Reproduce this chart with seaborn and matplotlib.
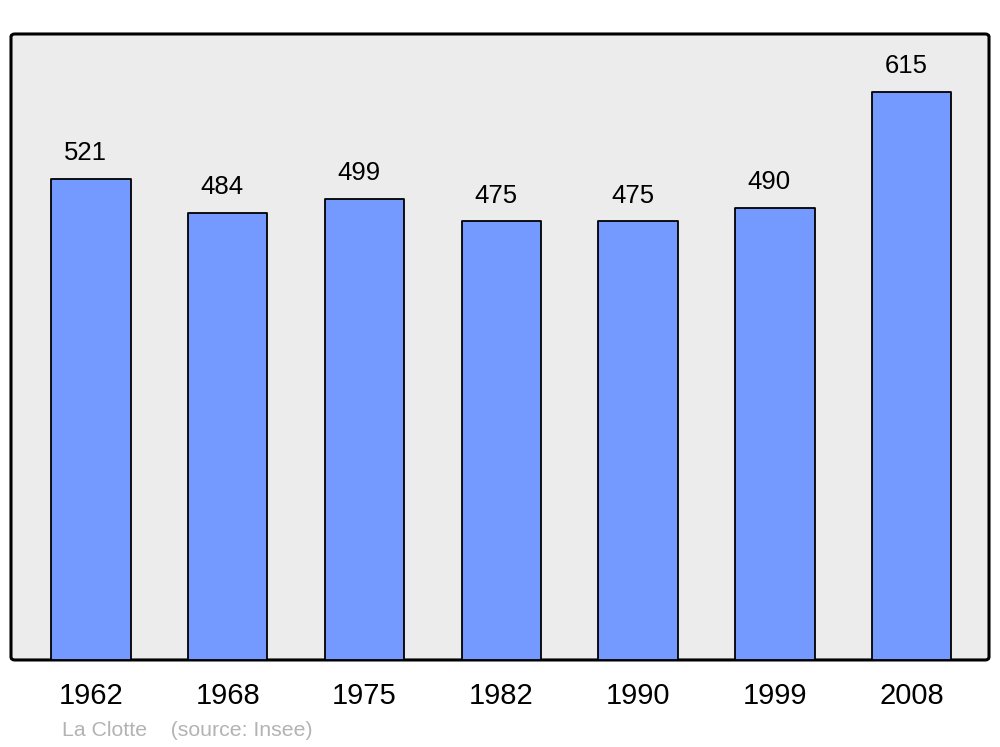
import numpy as np
import pandas as pd
import seaborn as sns
import matplotlib.pyplot as plt
from matplotlib.patches import FancyBboxPatch

# population data
years = ['1962', '1968', '1975', '1982', '1990', '1999', '2008']
population = [521, 484, 499, 475, 475, 490, 615]

df = pd.DataFrame({'Year': years, 'Population': population})

sns.set_style("white")
plt.rcParams['font.family'] = ['Liberation Sans', 'DejaVu Sans']
plt.rcParams['text.color'] = 'black'
plt.rcParams['xtick.color'] = 'black'

fig = plt.figure(figsize=(10, 7.47), dpi=100)
ax = fig.add_axes([0.011, 0.1165, 0.978, 0.838])

sns.barplot(x='Year', y='Population', data=df, color='#7499ff', width=0.58,
            saturation=1, edgecolor='black', linewidth=1.3, ax=ax, zorder=2)
for bar in ax.patches:
    bar.set_joinstyle('round')

# value labels, slightly left of bar centre like the original
for i, v in enumerate(population):
    ax.annotate(str(v), xy=(i, v), xytext=(-4, 10), textcoords='offset points',
                ha='center', va='bottom', fontsize=18.5, color='black')

# background frame with rounded corners
ax.set_facecolor('none')
for s in ax.spines.values():
    s.set_visible(False)
frame = FancyBboxPatch((0, 0), 1, 1, boxstyle="round,pad=0,rounding_size=0.004",
                       transform=ax.transAxes, facecolor='#ececec', edgecolor='black',
                       linewidth=2.2, zorder=0, clip_on=False, mutation_aspect=1.2)
ax.add_patch(frame)

ax.set_xlim(-0.585, 6.565)
ax.set_ylim(0, 678)
ax.set_yticks([])
ax.set_xlabel('')
ax.set_ylabel('')
ax.tick_params(axis='x', length=0, pad=16, labelsize=21, labelcolor='black')

fig.text(0.062, 1 - 730 / 747, 'La Clotte    (source: Insee)', color='#b3b3b3',
         fontsize=15.3, va='center', ha='left')

plt.savefig('out.png', dpi=100)
